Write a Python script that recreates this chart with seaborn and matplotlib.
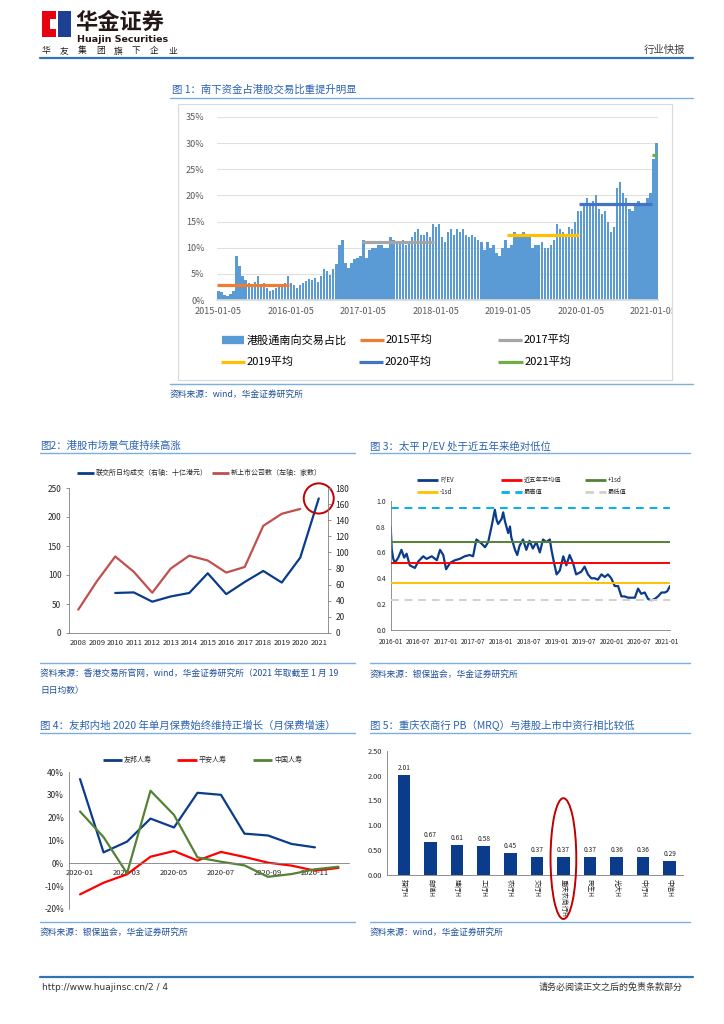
import numpy as np
import pandas as pd
import seaborn as sns
import matplotlib.pyplot as plt
import matplotlib.dates as mdates
from matplotlib.patches import Rectangle, Ellipse
from matplotlib.lines import Line2D

# ---- 图1：港股通南向交易占比（%，半月）----
sb_2015 = [1.8, 1.5, 1.0, 0.8, 1.2, 1.8, 8.5, 6.5, 4.5, 3.8, 3.2, 3.0,
           3.5, 4.5, 3.0, 3.2, 2.2, 1.8, 2.0, 2.2, 2.5, 2.8, 3.2, 4.5]
sb_2016 = [3.2, 2.8, 2.2, 2.8, 3.2, 3.6, 4.0, 3.8, 4.2, 3.5, 4.5, 6.0,
           5.5, 4.8, 6.0, 6.8, 10.5, 11.5, 7.0, 6.2, 7.0, 7.8, 8.0, 8.5]
sb_2017 = [11.5, 8.0, 9.5, 10.0, 10.0, 10.5, 10.5, 10.0, 10.0, 12.0, 11.5, 11.0,
           11.0, 11.5, 10.5, 11.0, 12.0, 13.0, 13.5, 12.5, 12.5, 13.0, 12.0, 14.5]
sb_2018 = [14.0, 14.5, 12.0, 11.0, 13.0, 13.5, 12.5, 13.5, 13.0, 13.5, 12.5, 12.0,
           12.5, 12.0, 11.5, 11.0, 9.5, 11.0, 10.0, 10.5, 9.0, 8.5, 10.0, 11.5]
sb_2019 = [10.0, 10.5, 13.0, 12.5, 12.5, 13.0, 12.0, 12.5, 10.0, 10.5, 10.5, 11.0,
           10.0, 10.0, 10.5, 11.5, 14.5, 13.5, 13.0, 12.5, 14.0, 13.5, 15.0, 17.0]
sb_2020 = [17.0, 18.0, 19.5, 18.5, 19.0, 20.0, 17.5, 16.5, 17.0, 15.0, 13.0, 14.0,
           21.5, 22.5, 20.5, 19.5, 17.5, 17.0, 18.5, 19.0, 18.5, 18.0, 19.5, 20.5]
sb_2021 = [27.0, 30.0]
avg_years = [2015, 2017, 2019, 2020, 2021]
avg_values = [2.8, 11.0, 12.4, 18.3, 27.8]
avg_labels = ['2015平均', '2017平均', '2019平均', '2020平均', '2021平均']
x_labels_1 = ['2015-01-05', '2016-01-05', '2017-01-05', '2018-01-05',
              '2019-01-05', '2020-01-05', '2021-01-05']

# ---- 图2：港股市场 ----
hk_years = [2008, 2009, 2010, 2011, 2012, 2013, 2014, 2015, 2016, 2017, 2018, 2019, 2020, 2021]
hk_turnover = [69, 70, 54, 63, 69, 103, 67, 88, 107, 87, 130, 232]   # 2010-2021
hk_ipo = [29, 64, 95, 76, 50, 80, 96, 90, 75, 82, 133, 148, 154]     # 2008-2020

# ---- 图3：太平 P/EV ----
pev_dates = ['2016-01-01', '2016-01-08', '2016-01-18', '2016-01-29', '2016-02-20', '2016-03-12',
             '2016-03-30', '2016-04-15', '2016-05-06', '2016-06-09', '2016-07-01', '2016-08-03',
             '2016-08-25', '2016-09-28', '2016-11-01', '2016-11-22', '2016-12-13', '2017-01-01',
             '2017-01-28', '2017-03-01', '2017-04-01', '2017-05-04', '2017-06-06', '2017-06-28',
             '2017-07-20', '2017-08-22', '2017-09-15', '2017-10-06', '2017-10-28', '2017-11-19',
             '2017-12-01', '2017-12-11', '2018-01-03', '2018-01-13', '2018-01-25', '2018-02-15',
             '2018-02-27', '2018-03-07', '2018-04-01', '2018-04-16', '2018-05-01', '2018-05-24',
             '2018-06-15', '2018-07-06', '2018-07-28', '2018-08-20', '2018-09-12', '2018-10-03',
             '2018-10-25', '2018-11-17', '2018-11-28', '2018-12-15', '2019-01-01', '2019-01-22',
             '2019-02-14', '2019-03-06', '2019-03-28', '2019-04-19', '2019-05-10', '2019-06-12',
             '2019-07-05', '2019-07-27', '2019-08-18', '2019-09-09', '2019-10-01', '2019-10-24',
             '2019-11-15', '2019-12-06', '2019-12-28', '2020-01-20', '2020-02-11', '2020-03-04',
             '2020-03-25', '2020-04-17', '2020-05-09', '2020-06-01', '2020-06-22', '2020-07-13',
             '2020-08-05', '2020-08-27', '2020-09-18', '2020-10-10', '2020-11-01', '2020-11-24',
             '2020-12-16', '2021-01-01', '2021-01-19']
pev_values = [0.80, 0.62, 0.55, 0.52, 0.56, 0.62, 0.56, 0.59, 0.50, 0.48, 0.53, 0.57,
              0.55, 0.57, 0.54, 0.62, 0.58, 0.47, 0.52, 0.54, 0.55, 0.57, 0.58, 0.57,
              0.70, 0.67, 0.64, 0.68, 0.80, 0.93, 0.85, 0.82, 0.86, 0.91, 0.84, 0.75,
              0.80, 0.72, 0.62, 0.58, 0.65, 0.70, 0.62, 0.69, 0.63, 0.68, 0.60, 0.70,
              0.68, 0.70, 0.62, 0.52, 0.43, 0.46, 0.57, 0.50, 0.58, 0.52, 0.43, 0.45,
              0.49, 0.43, 0.40, 0.40, 0.39, 0.43, 0.41, 0.43, 0.40, 0.34, 0.34, 0.26,
              0.26, 0.25, 0.25, 0.25, 0.32, 0.28, 0.29, 0.24, 0.23, 0.24, 0.26, 0.29,
              0.29, 0.30, 0.34]
pev_ref_labels = ['近五年平均值', '+1sd', '-1sd', '最高值', '最低值']
pev_ref_values = [0.52, 0.68, 0.36, 0.94, 0.23]

# ---- 图4：月保费增速（%）----
ins_months = ['2020-01', '2020-02', '2020-03', '2020-04', '2020-05', '2020-06',
              '2020-07', '2020-08', '2020-09', '2020-10', '2020-11', '2020-12']
aia_growth = [36.9, 4.8, 9.5, 19.6, 15.7, 30.9, 30.0, 13.0, 12.2, 8.5, 7.0]
pingan_growth = [-13.6, -8.5, -4.8, 2.9, 5.4, 1.2, 5.0, 2.8, 0.3, -1.0, -3.2, -2.0]
chinalife_growth = [22.7, 11.5, -4.4, 31.8, 21.2, 2.6, 0.7, -0.9, -5.9, -4.7, -2.6, -1.5]

# ---- 图5：PB（MRQ）----
bank_names = ['招行H', '邮储H', '建行H', '工行H', '农行H', '交行H',
              '重庆农商行H', '民生H', '光大H', '中行H', '中信H']
bank_pb = [2.01, 0.67, 0.61, 0.58, 0.45, 0.37, 0.37, 0.37, 0.36, 0.36, 0.29]

sns.set_theme(style='white')
plt.rcParams['font.family'] = ['Noto Sans CJK SC', 'DejaVu Sans']
plt.rcParams['axes.unicode_minus'] = False

W, H = 724, 1024
fig = plt.figure(figsize=(7.24, 10.24), dpi=100)

TITLE_C = '#2a62b0'
SRC_C = '#1f4e9a'
SEP_C = '#7bafe0'
TXT_C = '#262626'


def fx(x):
    return x / W


def fy(y):
    return 1 - y / H


def box(l, t, r, b):
    return [l / W, 1 - b / H, (r - l) / W, (b - t) / H]


def ftext(x, y, s, **kw):
    kw.setdefault('va', 'center')
    return fig.text(fx(x), fy(y), s, **kw)


def fline(x0, x1, y, **kw):
    fig.add_artist(Line2D([fx(x0), fx(x1)], [fy(y), fy(y)],
                          transform=fig.transFigure, **kw))


def legend_line(x0, x1, y, label, color, fs, ls='-', lw=2.0):
    fline(x0, x1, y, color=color, lw=lw, ls=ls, solid_capstyle='butt')
    ftext(x1 + 2, y, label, fontsize=fs, color=TXT_C)


# ---- 页眉 ----
fig.add_artist(Rectangle((fx(42), fy(37)), fx(56) - fx(42), fy(11) - fy(37),
                         transform=fig.transFigure, color='#e60012', lw=0))
fig.add_artist(Rectangle((fx(58), fy(37)), fx(71) - fx(58), fy(11) - fy(37),
                         transform=fig.transFigure, color='#1d3f94', lw=0))
fig.add_artist(Rectangle((fx(50), fy(29)), fx(58) - fx(50), fy(19) - fy(29),
                         transform=fig.transFigure, color='white', lw=0))
ftext(75, 22, '华金证券', fontsize=16, weight='bold', color='#231815')
ftext(77, 39, 'Huajin Securities', fontsize=6.8, weight='bold', color='#231815',
      family='DejaVu Sans')
for i, ch in enumerate('华友集团旗下企业'):
    ftext(42 + 18 * i, 51, ch, fontsize=6.3, color='#231815')
ftext(685, 50, '行业快报', fontsize=7.5, color='#404040', ha='right')
fline(40, 693, 58, color='#2e75b6', lw=1.6)

# ---- 图1 ----
ftext(172, 90, '图 1：南下资金占港股交易比重提升明显', fontsize=7.5, color=TITLE_C)
fline(170, 693, 98, color=SEP_C, lw=1.0)
frame = Rectangle((fx(178), fy(380)), fx(672) - fx(178), fy(104) - fy(380),
                  transform=fig.transFigure, fill=False, ec='#d9d9d9', lw=0.8)
fig.add_artist(frame)

year_lists = [sb_2015, sb_2016, sb_2017, sb_2018, sb_2019, sb_2020, sb_2021]
sb_ratio = sum(year_lists, [])
starts = np.cumsum([0] + [len(l) for l in year_lists])

ax1 = fig.add_axes(box(217, 117, 658, 300))
df1 = pd.DataFrame({'i': np.arange(len(sb_ratio)), 'v': sb_ratio})
sns.barplot(data=df1, x='i', y='v', color='#5b9bd5', saturation=1, width=0.8,
            linewidth=0, edgecolor='none', ax=ax1, zorder=2)
avg_colors = ['#ed7d31', '#a5a5a5', '#ffc000', '#4472c4', '#70ad47']
for yr, val, c in zip(avg_years, avg_values, avg_colors):
    k = yr - 2015
    ax1.hlines(val, starts[k] - 0.5, starts[k + 1] - 0.5, color=c, lw=2.3, zorder=3)
ax1.set_xlim(-0.5, len(sb_ratio) - 0.5)
ax1.set_ylim(0, 35)
ax1.set_yticks(range(0, 36, 5))
ax1.set_yticklabels([f'{t}%' for t in range(0, 36, 5)])
ax1.set_xticks(starts[:7])
ax1.set_xticklabels(x_labels_1)
ax1.set_xlabel('')
ax1.set_ylabel('')
ax1.yaxis.grid(True, color='#e0e0e0', lw=0.8)
ax1.set_axisbelow(True)
for s in ['left', 'right', 'top']:
    ax1.spines[s].set_visible(False)
ax1.spines['bottom'].set_color('#d9d9d9')
ax1.tick_params(axis='y', length=0, pad=9, labelsize=6.5, labelcolor='#595959')
ax1.tick_params(axis='x', length=0, pad=5, labelsize=6.5, labelcolor='#595959')
for t in ax1.get_xticklabels():
    t.set_clip_on(True)
    t.set_clip_path(frame)

legend_line(222, 244, 340, '', '#5b9bd5', 8, lw=6)
ftext(247, 340, '港股通南向交易占比', fontsize=8, color='black')
leg_pos = [(360, 384, 340), (498, 522, 340), (221, 245, 362), (359, 383, 362), (498, 523, 362)]
for (x0, x1, y), lab, c in zip(leg_pos, avg_labels, avg_colors):
    fline(x0, x1, y, color=c, lw=2.3, solid_capstyle='butt')
    ftext(x1 + 2, y, lab, fontsize=8, color='black')

fline(170, 693, 384, color=SEP_C, lw=1.0)
ftext(170, 394, '资料来源：wind，华金证券研究所', fontsize=6.3, color=SRC_C, style='italic')

# ---- 图2 ----
ftext(40, 446, '图2：港股市场景气度持续高涨', fontsize=7.5, color=TITLE_C)
fline(40, 355, 453, color=SEP_C, lw=1.0)
legend_line(77, 94, 473, '联交所日均成交（右轴：十亿港元）', '#0b3c8c', 5)
legend_line(212, 229, 473, '新上市公司数（左轴：家数）', '#c0504d', 5)

ax2 = fig.add_axes(box(69, 488, 328, 633))
ax2r = ax2.twinx()
sns.lineplot(x=hk_years[2:], y=hk_turnover, ax=ax2, color='#0b3c8c', lw=1.6)
sns.lineplot(x=hk_years[:len(hk_ipo)], y=hk_ipo, ax=ax2r, color='#c0504d', lw=1.6)
ax2.set_xlim(2007.5, 2021.5)
ax2.set_ylim(0, 250)
ax2r.set_ylim(0, 180)
ax2.set_yticks(range(0, 251, 50))
ax2r.set_yticks(range(0, 181, 20))
ax2.set_xticks(hk_years)
ax2.set_xticklabels([str(y) for y in hk_years])
ax2.set_xticks(np.arange(hk_years[0] - 0.5, hk_years[-1] + 1, 1), minor=True)
ax2.tick_params(axis='x', which='major', length=0, labelsize=5.5, labelcolor=TXT_C, pad=4)
ax2.tick_params(axis='x', which='minor', length=3, color='#7f7f7f', width=0.6)
ax2.tick_params(axis='y', length=2, labelsize=6, labelcolor=TXT_C, color='#7f7f7f', width=0.6)
ax2r.tick_params(axis='y', length=2, labelsize=6, labelcolor=TXT_C, color='#7f7f7f', width=0.6)
for a in (ax2, ax2r):
    a.set_xlabel('')
    a.set_ylabel('')
    a.spines['top'].set_visible(False)
ax2.spines['right'].set_visible(False)
ax2r.spines['left'].set_visible(False)
ax2r.spines['bottom'].set_visible(False)
for s in ['left', 'bottom']:
    ax2.spines[s].set_color('#7f7f7f')
    ax2.spines[s].set_linewidth(0.6)
ax2r.spines['right'].set_color('#7f7f7f')
ax2r.spines['right'].set_linewidth(0.6)
ax2.add_patch(Ellipse((hk_years[-1], hk_turnover[-1]), 1.62, 52, fill=False,
                      ec='#c00000', lw=1.4, clip_on=False, zorder=5))

fline(40, 355, 663, color=SEP_C, lw=1.0)
ftext(40, 674, '资料来源：香港交易所官网，wind，华金证券研究所（2021 年取截至 1 月 19',
      fontsize=6.3, color=SRC_C, style='italic')
ftext(40, 690, '日日均数）', fontsize=6.3, color=SRC_C, style='italic')

# ---- 图3 ----
ftext(370, 446, '图 3：太平 P/EV 处于近五年来绝对低位', fontsize=7.5, color=TITLE_C)
fline(370, 690, 453, color=SEP_C, lw=1.0)
ref_colors = ['#ff0000', '#548235', '#ffc000', '#00b0f0', '#d0d0d0']
ref_styles = ['-', '-', '-', (0, (4, 3)), (0, (4, 3))]
legend_line(417, 438, 480, 'P/EV', '#0b3c8c', 4.5)
legend_line(501, 522, 480, pev_ref_labels[0], ref_colors[0], 4.5)
legend_line(585, 606, 480, pev_ref_labels[1], ref_colors[1], 4.5)
legend_line(417, 438, 492, pev_ref_labels[2], ref_colors[2], 4.5)
legend_line(501, 522, 492, pev_ref_labels[3], ref_colors[3], 4.5, ls=(0, (3, 2)))
legend_line(585, 606, 492, pev_ref_labels[4], ref_colors[4], 4.5, ls=(0, (3, 2)))

ax3 = fig.add_axes(box(390.7, 500.7, 670, 630))
pev = pd.DataFrame({'date': pd.to_datetime(pev_dates), 'v': pev_values})
sns.lineplot(data=pev, x='date', y='v', ax=ax3, color='#0b3c8c', lw=1.6, zorder=2)
for val, c, ls in zip(pev_ref_values, ref_colors, ref_styles):
    ax3.axhline(val, color=c, ls=ls, lw=1.4, zorder=3)
ax3.set_xlim(pd.Timestamp('2016-01-01'), pd.Timestamp('2021-01-19'))
ax3.set_ylim(0, 1.0)
ax3.set_yticks(np.arange(0, 1.01, 0.2))
ax3.set_yticklabels([f'{t:.1f}' for t in np.arange(0, 1.01, 0.2)])
ax3.xaxis.set_major_locator(mdates.MonthLocator(bymonth=[1, 7]))
ax3.xaxis.set_major_formatter(mdates.DateFormatter('%Y-%m'))
ax3.set_xlabel('')
ax3.set_ylabel('')
ax3.tick_params(axis='x', length=2, labelsize=4.8, labelcolor=TXT_C, color='#7f7f7f', width=0.6)
ax3.tick_params(axis='y', length=0, labelsize=5, labelcolor=TXT_C)
for s in ['top', 'right']:
    ax3.spines[s].set_visible(False)
for s in ['left', 'bottom']:
    ax3.spines[s].set_color('#7f7f7f')
    ax3.spines[s].set_linewidth(0.6)

fline(370, 690, 663, color=SEP_C, lw=1.0)
ftext(370, 674, '资料来源：银保监会，华金证券研究所', fontsize=6.3, color=SRC_C, style='italic')

# ---- 图4 ----
ftext(40, 726, '图 4：友邦内地 2020 年单月保费始终维持正增长（月保费增速）', fontsize=7.5, color=TITLE_C)
fline(40, 355, 733, color=SEP_C, lw=1.0)
ins_colors = ['#0b3c8c', '#ff0000', '#548235']
legend_line(103, 122, 760, '友邦人寿', ins_colors[0], 5)
legend_line(177, 197, 760, '平安人寿', ins_colors[1], 5)
legend_line(253, 272, 760, '中国人寿', ins_colors[2], 5)

ax4 = fig.add_axes(box(69, 772, 349, 909))
for series, c in zip([aia_growth, pingan_growth, chinalife_growth], ins_colors):
    sns.lineplot(x=np.arange(len(series)), y=series, ax=ax4, color=c, lw=1.6)
ax4.set_xlim(-0.47, 11.45)
ax4.set_ylim(-20, 40)
ax4.set_yticks(range(-20, 41, 10))
ax4.set_yticklabels([f'{t}%' for t in range(-20, 41, 10)])
ax4.set_xticks(np.arange(0, len(ins_months), 2))
ax4.set_xticklabels(ins_months[::2])
ax4.set_xlabel('')
ax4.set_ylabel('')
ax4.spines['bottom'].set_position(('data', 0))
for s in ['top', 'right']:
    ax4.spines[s].set_visible(False)
for s in ['left', 'bottom']:
    ax4.spines[s].set_color('#7f7f7f')
    ax4.spines[s].set_linewidth(0.6)
ax4.tick_params(axis='x', length=2, pad=2, labelsize=5.5, labelcolor=TXT_C, color='#7f7f7f', width=0.6)
ax4.tick_params(axis='y', length=0, labelsize=6, labelcolor=TXT_C)

fline(40, 355, 922, color=SEP_C, lw=1.0)
ftext(40, 932, '资料来源：银保监会，华金证券研究所', fontsize=6.3, color=SRC_C, style='italic')

# ---- 图5 ----
ftext(370, 726, '图 5：重庆农商行 PB（MRQ）与港股上市中资行相比较低', fontsize=7.5, color=TITLE_C)
fline(370, 690, 733, color=SEP_C, lw=1.0)

ax5 = fig.add_axes(box(386.7, 750.7, 683, 875))
df5 = pd.DataFrame({'bank': bank_names, 'pb': bank_pb})
sns.barplot(data=df5, x='bank', y='pb', color='#0b3c8c', saturation=1, width=0.47,
            linewidth=0, edgecolor='none', ax=ax5)
for i, v in enumerate(bank_pb):
    ax5.text(i, v + 0.06, f'{v:.2f}', ha='center', va='bottom', fontsize=4.8, color=TXT_C)
ax5.set_xlim(-0.65, 10.5)
ax5.set_ylim(0, 2.5)
ax5.set_yticks(np.arange(0, 2.51, 0.5))
ax5.set_yticklabels([f'{t:.2f}' for t in np.arange(0, 2.51, 0.5)])
ax5.set_xlabel('')
ax5.set_ylabel('')
ax5.tick_params(axis='x', length=0, labelsize=4.8, labelcolor=TXT_C, pad=3, labelrotation=270)
for t in ax5.get_xticklabels():
    t.set_va('top')
ax5.tick_params(axis='y', length=0, labelsize=5.3, labelcolor=TXT_C)
for s in ['top', 'right']:
    ax5.spines[s].set_visible(False)
for s in ['left', 'bottom']:
    ax5.spines[s].set_color('#7f7f7f')
    ax5.spines[s].set_linewidth(0.6)
ax5.add_patch(Ellipse((bank_names.index('重庆农商行H'), 0.33), 0.97, 2.43, fill=False,
                      ec='#c00000', lw=1.4, clip_on=False, zorder=5))

fline(370, 690, 922, color=SEP_C, lw=1.0)
ftext(370, 932, '资料来源：wind，华金证券研究所', fontsize=6.3, color=SRC_C, style='italic')

# ---- 页脚 ----
fline(40, 693, 977, color='#2e75b6', lw=1.6)
ftext(42, 987, 'http://www.huajinsc.cn/2 / 4', fontsize=6.5, color='#333333', family='DejaVu Sans')
ftext(683, 987, '请务必阅读正文之后的免责条款部分', fontsize=6.5, color='#333333', ha='right')

fig.savefig('out.png', dpi=100)
